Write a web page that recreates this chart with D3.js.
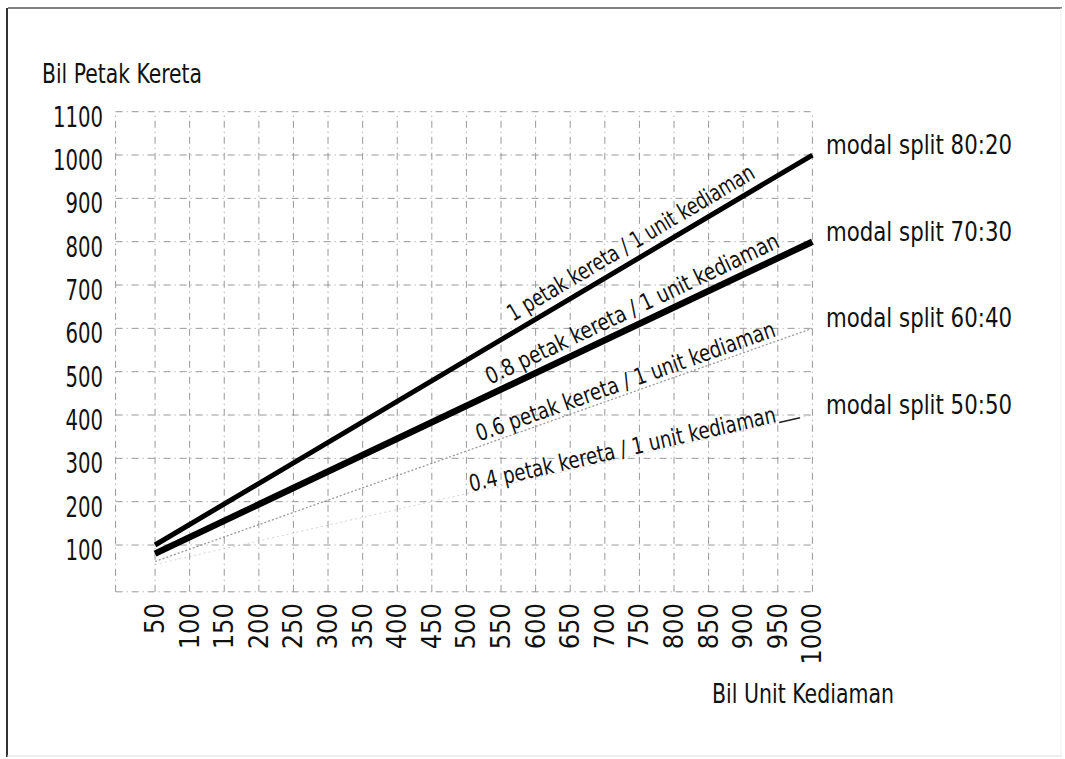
<!DOCTYPE html>
<html>
<head>
<meta charset="utf-8">
<script src="https://cdn.jsdelivr.net/npm/d3@7"></script>
<style>
  html, body { margin: 0; padding: 0; background: #fff; }
  svg { display: block; }
  text { font-family: "Liberation Sans Narrow", "DejaVu Sans Condensed", "Arial Narrow", sans-serif; fill: #111; }
</style>
</head>
<body>
<script>
// ---- data ----
const xTicks = [50,100,150,200,250,300,350,400,450,500,550,600,650,700,750,800,850,900,950,1000];
const yTicks = [100,200,300,400,500,600,700,800,900,1000,1100];
const xStart = [50, 1000];
const split8020 = [100, 1000];
const split7030 = [80, 800];
const split6040 = [62, 600];
const split5050 = [55, 400];
const splitNames = ["modal split 80:20", "modal split 70:30", "modal split 60:40", "modal split 50:50"];
const lineLabels = ["1 petak kereta / 1 unit kediaman", "0.8 petak kereta / 1 unit kediaman",
                    "0.6 petak kereta / 1 unit kediaman", "0.4 petak kereta / 1 unit kediaman"];
const yTitle = "Bil Petak Kereta";
const xTitle = "Bil Unit Kediaman";

const W = 1065, H = 759;
const svg = d3.select("body").append("svg").attr("width", W).attr("height", H);

const x = d3.scaleLinear().domain([-7, 1000]).range([115.6, 812.4]);
const y = d3.scaleLinear().domain([-8, 1100]).range([591.8, 111.7]);

// outer frame
svg.append("line").attr("x1", 8).attr("x2", 1062).attr("y1", 8).attr("y2", 8).attr("stroke", "#555").attr("stroke-width", 1.5);
svg.append("line").attr("x1", 7).attr("x2", 7).attr("y1", 8).attr("y2", 757).attr("stroke", "#333").attr("stroke-width", 2);
svg.append("line").attr("x1", 7).attr("x2", 1062).attr("y1", 756).attr("y2", 756).attr("stroke", "#ddd").attr("stroke-width", 1);
svg.append("line").attr("x1", 1061).attr("x2", 1061).attr("y1", 8).attr("y2", 756).attr("stroke", "#eee").attr("stroke-width", 1);

// grid
const grid = svg.append("g").attr("stroke", "#777").attr("stroke-width", 1).attr("stroke-dasharray", "7,4,1,4").attr("opacity", 0.75);
grid.selectAll("line.v").data([-7].concat(xTicks)).join("line").attr("class", "v")
  .attr("x1", d => x(d)).attr("x2", d => x(d)).attr("y1", y(-8)).attr("y2", y(1100));
grid.selectAll("line.h").data([-8].concat(yTicks)).join("line").attr("class", "h")
  .attr("x1", x(-7)).attr("x2", x(1000)).attr("y1", d => y(d)).attr("y2", d => y(d));

// y tick labels
svg.append("g").selectAll("text").data(yTicks).join("text")
  .attr("x", 103).attr("y", d => y(d) + 15)
  .attr("text-anchor", "end").attr("font-size", 29)
  .attr("textLength", d => String(d).length * 12.5).attr("lengthAdjust", "spacingAndGlyphs")
  .text(d => d);

// x tick labels (rotated)
svg.append("g").selectAll("text").data(xTicks).join("text")
  .attr("transform", d => `translate(${x(d) + 9},603) rotate(-90)`)
  .attr("text-anchor", "end").attr("font-size", 27).text(d => d);

// axis titles
svg.append("text").attr("x", 42).attr("y", 83).attr("font-size", 26)
  .attr("textLength", 160).attr("lengthAdjust", "spacingAndGlyphs").text(yTitle);
svg.append("text").attr("x", 712).attr("y", 703).attr("font-size", 27)
  .attr("textLength", 182).attr("lengthAdjust", "spacingAndGlyphs").text(xTitle);

// series
const series = [
  {vals: split8020, w: 5, c: "#000", dash: null, op: 1},
  {vals: split7030, w: 6.5, c: "#000", dash: null, op: 1},
  {vals: split6040, w: 1.3, c: "#888", dash: "2,2", op: 0.85},
  {vals: split5050, w: 1, c: "#aaa", dash: "2,3", op: 0.5}
];
const line = d3.line().x(d => x(d[0])).y(d => y(d[1]));
series.forEach(s => {
  const pts = xStart.map((xv, i) => [xv, s.vals[i]]);
  svg.append("path").attr("d", line(pts)).attr("fill", "none")
    .attr("stroke", s.c).attr("stroke-width", s.w).attr("opacity", s.op)
    .attr("stroke-dasharray", s.dash);
});
// visible end dash on 50:50 line
{
  const s = split5050;
  const f = v => s[0] + (v - xStart[0]) * (s[1] - s[0]) / (xStart[1] - xStart[0]);
  svg.append("line").attr("x1", x(952)).attr("y1", y(f(952))).attr("x2", x(982)).attr("y2", y(f(982)))
    .attr("stroke", "#222").attr("stroke-width", 1.5);
}

// right-side labels
const allSeries = [split8020, split7030, split6040, split5050];
svg.append("g").selectAll("text").data(splitNames).join("text")
  .attr("x", 826).attr("y", (d, i) => y(allSeries[i][1]) - 1)
  .attr("font-size", 26).attr("textLength", 186).attr("lengthAdjust", "spacingAndGlyphs").text(d => d);

// in-line labels along lines
const lab = [
  {i: 0, x0: 513, off: 11, len: 283},
  {i: 1, x0: 490, off: 10, len: 322},
  {i: 2, x0: 479, off: 5, len: 316},
  {i: 3, x0: 471, off: 1, len: 314}
];
lab.forEach(l => {
  const s = allSeries[l.i];
  const px0 = x(xStart[0]), py0 = y(s[0]), px1 = x(xStart[1]), py1 = y(s[1]);
  const ang = Math.atan2(py1 - py0, px1 - px0) * 180 / Math.PI;
  const ly = py0 + (l.x0 - px0) * (py1 - py0) / (px1 - px0) - l.off;
  svg.append("text")
    .attr("transform", `translate(${l.x0},${ly}) rotate(${ang})`)
    .attr("font-size", 23).attr("textLength", l.len).attr("lengthAdjust", "spacingAndGlyphs")
    .text(lineLabels[l.i]);
});
</script>
</body>
</html>
